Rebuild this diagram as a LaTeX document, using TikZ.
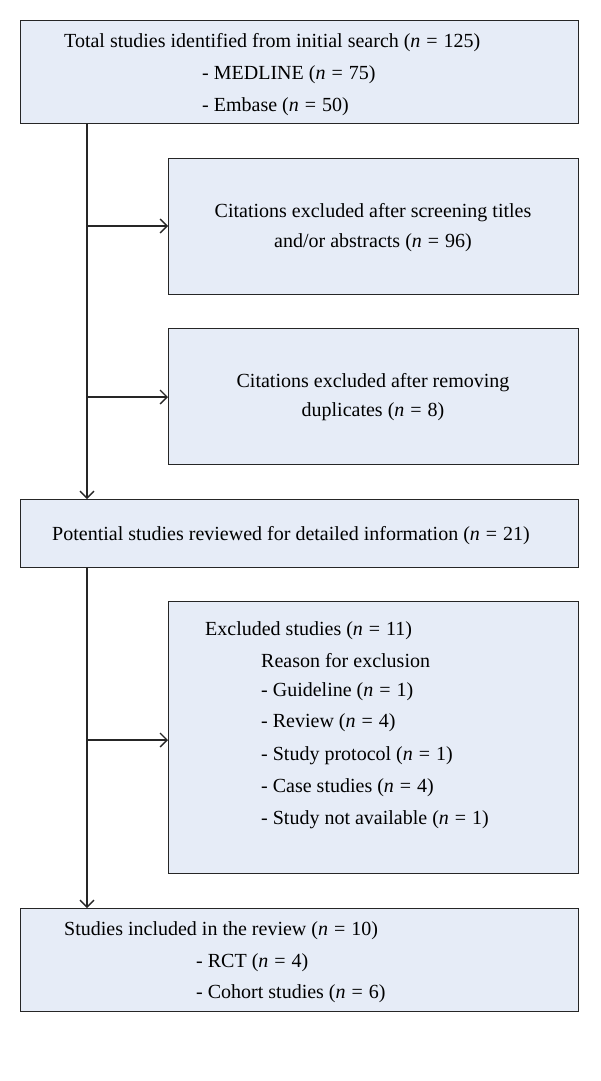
\documentclass[tikz,border=0pt]{standalone}
\usepackage{fontspec}
\setmainfont{Liberation Serif}
\usetikzlibrary{arrows.meta}
\definecolor{boxfill}{HTML}{E6ECF7}
\newcommand{\nn}[1]{\textit{n}\hspace{0.3em}=\hspace{0.3em}#1}
\tikzset{
  box/.style={draw=black!85, line width=1.3pt, fill=boxfill, inner sep=0pt},
  txt/.style={anchor=west, inner sep=0pt, font=\fontsize{20}{22}\selectfont},
  ctxt/.style={anchor=center, inner sep=0pt, font=\fontsize{20}{22}\selectfont},
  arr/.style={draw=black!85, line width=1.3pt, -{Straight Barb[length=7pt,width=14pt,line width=1.3pt]}}
}
\begin{document}
\begin{tikzpicture}[x=1pt,y=-1pt]
\useasboundingbox (0,0) rectangle (600,1081);
% boxes
\node[box, minimum width=558pt, minimum height=103pt, anchor=north west] (b1) at (20,20) {};
\node[box, minimum width=410pt, minimum height=136pt, anchor=north west] (b2) at (168,158) {};
\node[box, minimum width=410pt, minimum height=136pt, anchor=north west] (b3) at (168,328) {};
\node[box, minimum width=558pt, minimum height=68pt, anchor=north west] (b4) at (20,499) {};
\node[box, minimum width=410pt, minimum height=272pt, anchor=north west] (b5) at (168,601) {};
\node[box, minimum width=558pt, minimum height=103pt, anchor=north west] (b6) at (20,908) {};
% texts
\node[txt] (t1a) at (64,43) {Total studies identified from initial search (\nn{125})};
\node[txt] (t1b) at (202,75) {- MEDLINE (\nn{75})};
\node[txt] (t1c) at (202,107) {- Embase (\nn{50})};
\node[ctxt] (t2a) at (373,213) {Citations excluded after screening titles};
\node[ctxt] (t2b) at (373,243) {and/or abstracts (\nn{96})};
\node[ctxt] (t3a) at (373,383) {Citations excluded after removing};
\node[ctxt] (t3b) at (373,412) {duplicates (\nn{8})};
\node[txt] (t4) at (52,536) {Potential studies reviewed for detailed information (\nn{21})};
\node[txt] (t5a) at (205,631) {Excluded studies (\nn{11})};
\node[txt] (t5b) at (261,661) {Reason for exclusion};
\node[txt] (t5c) at (261,692) {- Guideline (\nn{1})};
\node[txt] (t5d) at (261,723) {- Review (\nn{4})};
\node[txt] (t5e) at (261,756) {- Study protocol (\nn{1})};
\node[txt] (t5f) at (261,788) {- Case studies (\nn{4})};
\node[txt] (t5g) at (261,820) {- Study not available (\nn{1})};
\node[txt] (t6a) at (64,931) {Studies included in the review (\nn{10})};
\node[txt] (t6b) at (196,963) {- RCT (\nn{4})};
\node[txt] (t6c) at (196,994) {- Cohort studies (\nn{6})};
% connectors
\coordinate (j1) at (87,226);
\coordinate (j2) at (87,397);
\coordinate (j3) at (87,740);
\draw[arr] (b1.south -| j1) -- (b4.north -| j1);
\draw[arr] (j1) -- (j1 -| b2.west);
\draw[arr] (j2) -- (j2 -| b3.west);
\draw[arr] (b4.south -| j3) -- (b6.north -| j3);
\draw[arr] (j3) -- (j3 -| b5.west);
\end{tikzpicture}
\end{document}
